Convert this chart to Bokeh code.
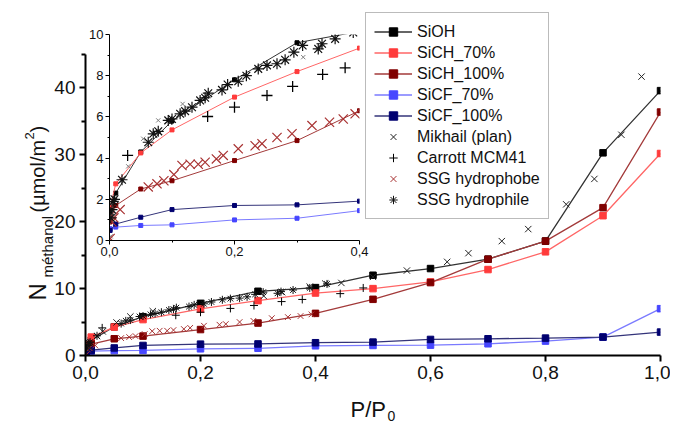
import math
from bokeh.plotting import figure
from bokeh.models import Range1d, Legend, LegendItem, Label, FixedTicker, CustomJSTickFormatter
from bokeh.layouts import column
from bokeh.embed import file_html
from bokeh.resources import INLINE

FONT = "Liberation Sans"
W, H = 670, 424

# ---------------- data ----------------
P = [0.001, 0.01, 0.05, 0.1, 0.2, 0.3, 0.4, 0.5, 0.6, 0.7, 0.8, 0.9, 1.0]
SiOH = [1.4, 2.3, 4.3, 5.8, 7.8, 9.6, 10.15, 12.0, 13.0, 14.4, 17.1, 30.3, 39.6]
SiCH_70 = [1.6, 2.75, 4.25, 5.37, 6.96, 8.2, 9.34, 10.0, 11.0, 12.85, 15.5, 20.9, 30.2]
SiCH_100 = [0.9, 1.7, 2.5, 2.9, 3.88, 4.85, 6.3, 8.4, 10.9, 14.4, 17.1, 22.1, 36.4]
SiCF_70 = [0.57, 0.65, 0.73, 0.76, 1.0, 1.08, 1.45, 1.5, 1.55, 1.75, 2.15, 2.75, 7.0]
SiCF_100 = [0.49, 0.8, 1.13, 1.5, 1.7, 1.73, 1.91, 2.0, 2.4, 2.5, 2.6, 2.75, 3.5]

mikhail_x = [0.002, 0.008, 0.02, 0.03, 0.054, 0.078, 0.117, 0.31, 0.342, 0.39, 0.417,
             0.445, 0.5, 0.559, 0.629, 0.666, 0.724, 0.77, 0.836, 0.885, 0.932, 0.967]
mikhail_y = [0.2, 1.2, 2.9, 3.6, 4.94, 5.83, 6.63, 8.9, 9.47, 10.3, 10.75,
             10.85, 11.75, 12.7, 14.0, 15.3, 17.1, 18.9, 22.6, 26.4, 33.0, 41.7]

carrott_x = [0.029, 0.157, 0.2, 0.252, 0.293, 0.341, 0.377, 0.443, 0.483]
carrott_y = [4.13, 6.02, 6.47, 7.04, 7.48, 8.06, 8.38, 9.25, 10.1]

phobe_x = [0.001, 0.004, 0.007, 0.017, 0.062, 0.076, 0.087, 0.103, 0.116, 0.129, 0.142, 0.153,
           0.171, 0.182, 0.206, 0.233, 0.244, 0.268, 0.292, 0.324, 0.352, 0.374, 0.393]
phobe_y = [0.1, 0.9, 1.1, 1.5, 2.6, 2.75, 2.9, 3.2, 3.64, 3.7, 3.7, 3.8,
           3.96, 4.13, 4.45, 4.6, 4.7, 5.0, 5.18, 5.58, 5.74, 5.9, 6.15]

phile_x = [0.002, 0.004, 0.006, 0.008, 0.02, 0.062, 0.07, 0.078, 0.094, 0.1, 0.113, 0.121,
           0.132, 0.145, 0.153, 0.158, 0.18, 0.189, 0.206, 0.219, 0.238, 0.252, 0.268, 0.281,
           0.295, 0.309, 0.334, 0.34, 0.361, 0.39, 0.42]
phile_y = [1.1, 1.5, 1.9, 2.0, 2.95, 4.77, 5.18, 5.3, 5.83, 5.9, 6.15, 6.28,
           6.47, 6.8, 6.93, 7.15, 7.31, 7.57, 7.73, 8.0, 8.33, 8.5, 8.58, 8.77,
           9.14, 9.47, 9.3, 9.55, 9.79, 10.1, 10.7]

main_x_ticks = [0.0, 0.2, 0.4, 0.6, 0.8, 1.0]
main_y_ticks = [0, 10, 20, 30, 40]
main_y_minor = [5, 15, 25, 35, 45]
inset_x_ticks = [0.0, 0.2, 0.4]
inset_x_minor = [0.1, 0.3]
inset_y_ticks = [0, 2, 4, 6, 8, 10]
inset_y_minor = [1, 3, 5, 7, 9]

series = [
    ("SiOH", SiOH, "#333333", "#000000"),
    ("SiCH_70%", SiCH_70, "#ff6666", "#ff3b3b"),
    ("SiCH_100%", SiCH_100, "#a33a3a", "#800000"),
    ("SiCF_70%", SiCF_70, "#7a7aff", "#4646ff"),
    ("SiCF_100%", SiCF_100, "#34347a", "#000070"),
]


def comma():
    return CustomJSTickFormatter(code="return tick.toFixed(1).replace('.', ',');")


def style_axes(fig, xt, xm, yt, ym, font_size, lw, tick_out, minor_out, standoff):
    fig.xaxis.ticker = FixedTicker(ticks=xt, minor_ticks=xm)
    fig.yaxis.ticker = FixedTicker(ticks=yt, minor_ticks=ym)
    fig.xaxis.formatter = comma()
    for ax in (fig.xaxis, fig.yaxis):
        ax.axis_line_width = lw
        ax.axis_line_color = "black"
        ax.major_tick_line_color = "black"
        ax.minor_tick_line_color = "black"
        ax.major_tick_line_width = lw
        ax.minor_tick_line_width = lw
        ax.major_tick_in = 0
        ax.major_tick_out = tick_out
        ax.minor_tick_in = 0
        ax.minor_tick_out = minor_out
        ax.major_label_text_font = FONT
        ax.major_label_text_font_size = font_size
        ax.major_label_text_color = "#111111"
        ax.major_label_standoff = standoff


common = dict(width=W, height=H, output_backend="svg", toolbar_location=None,
              background_fill_color=None, border_fill_color=None, frame_align=False)

# ---------------- titles layer (bottom) ----------------
t = figure(x_range=Range1d(0, W), y_range=Range1d(0, H),
           x_axis_type=None, y_axis_type=None,
           min_border_left=0, min_border_right=0, min_border_top=0, min_border_bottom=0,
           **common)
t.outline_line_color = None
t.grid.visible = False
t.margin = (0, 0, -H, 0)


def lab(txt, x, y, size, angle=0.0):
    t.add_layout(Label(x=x, y=y, text=txt, angle=angle, text_font=FONT,
                       text_font_size=size, text_color="#111111",
                       text_baseline="alphabetic", text_align="left"))


a = math.pi / 2
lab("N", 37, 124, "24px", a)
lab("méthanol", 47, 147, "15px", a)
lab("(µmol/m", 37.5, 212, "20px", a)
lab("2", 28.5, 285, "13px", a)
lab(")", 37.5, 292, "20px", a)
lab("P/P", 350, 15, "22px")
lab("0", 387, 9, "14px")

# ---------------- inset (middle) ----------------
ins = figure(x_range=Range1d(0, 0.4), y_range=Range1d(0, 10),
             min_border_left=109, min_border_right=W - 359, min_border_top=34,
             min_border_bottom=H - 240, **common)
ins.margin = (0, 0, -H, 0)
ins.outline_line_color = None
ins.grid.visible = False
style_axes(ins, inset_x_ticks, inset_x_minor, inset_y_ticks, inset_y_minor, "13px", 1, 4, 2, 2)

for name, ys, lc, mc in series:
    ins.line(P, ys, line_color=lc, line_width=1)
    ins.scatter(P, ys, marker="square", size=4, fill_color=mc, line_color=mc)
ins.scatter(mikhail_x, mikhail_y, marker="x", size=6, line_color="#808080", line_width=1)
ins.scatter(carrott_x, carrott_y, marker="cross", size=11, line_color="black", line_width=1.3)
ins.scatter(phobe_x, phobe_y, marker="x", size=13, line_color="#a83232", line_width=1.2)
ins.scatter(phile_x, phile_y, marker="asterisk", size=11, line_color="#111111", line_width=1.2)

# ---------------- main (top) ----------------
p = figure(x_range=Range1d(0, 1.0), y_range=Range1d(0, 51.58),
           min_border_left=85, min_border_right=W - 660, min_border_top=10,
           min_border_bottom=H - 355, **common)
p.outline_line_color = None
p.grid.visible = False
style_axes(p, main_x_ticks, [], main_y_ticks, main_y_minor, "19px", 2, 6, 4, 4)
p.yaxis.formatter = CustomJSTickFormatter(code="return tick.toFixed(0);")
p.yaxis.bounds = (0, 45)
p.xaxis.bounds = (0, 1.0)

items = []
for name, ys, lc, mc in series:
    lr = p.line(P, ys, line_color=lc, line_width=1.3)
    sr = p.scatter(P, ys, marker="square", size=6.5, fill_color=mc, line_color=mc)
    items.append(LegendItem(label=name, renderers=[lr, sr]))
r1 = p.scatter(mikhail_x, mikhail_y, marker="x", size=9, line_color="#222222", line_width=1)
items.append(LegendItem(label="Mikhail (plan)", renderers=[r1]))
r2 = p.scatter(carrott_x, carrott_y, marker="cross", size=8, line_color="black", line_width=1)
items.append(LegendItem(label="Carrott MCM41", renderers=[r2]))
r3 = p.scatter(phobe_x, phobe_y, marker="x", size=8, line_color="#a83232", line_width=1)
items.append(LegendItem(label="SSG hydrophobe", renderers=[r3]))
r4 = p.scatter(phile_x, phile_y, marker="asterisk", size=8, line_color="#111111", line_width=1)
items.append(LegendItem(label="SSG hydrophile", renderers=[r4]))

legend = Legend(items=items, location=(280, 136), label_text_font=FONT,
                label_text_font_size="16px", label_text_color="#111111",
                glyph_width=38, glyph_height=21, label_height=21, spacing=0,
                padding=8, margin=0, label_standoff=5,
                border_line_color="#777777", border_line_width=1,
                background_fill_color="white", background_fill_alpha=1)
p.add_layout(legend)

layout = column(t, ins, p)
open("out.html", "w").write(file_html(layout, INLINE))
